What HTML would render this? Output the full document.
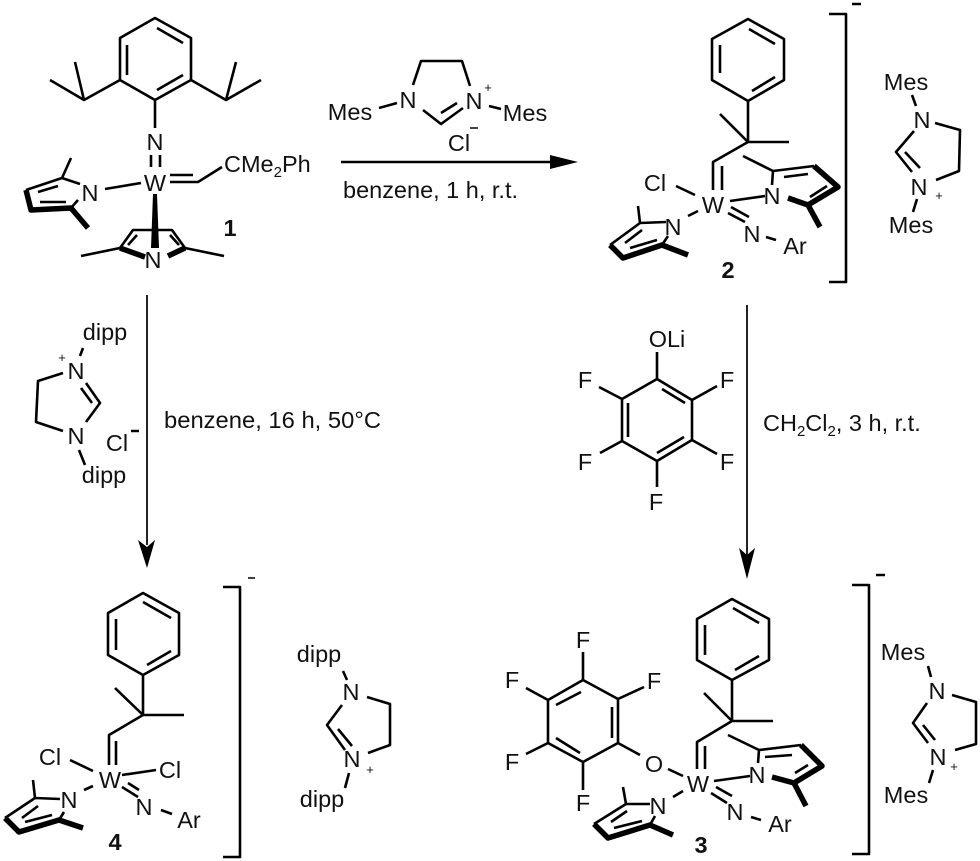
<!DOCTYPE html>
<html><head><meta charset="utf-8"><style>
html,body{margin:0;padding:0;background:#fff;width:980px;height:861px;overflow:hidden}
svg{display:block}
text{font-family:"Liberation Sans",sans-serif;font-size:23.5px;fill:#111;text-anchor:middle}
.l{text-anchor:start}
.b{font-weight:bold}
.s{font-size:15px}
.p{font-size:13px}
.t{fill:none;stroke:#000;stroke-width:2.6;stroke-linejoin:round}
.k{fill:none;stroke:#000;stroke-width:5.5;stroke-linejoin:round}
.a{fill:none;stroke:#222;stroke-width:2}
.h{fill:#000;stroke:none}
</style></head><body>
<svg width="980" height="861" viewBox="0 0 980 861" xmlns="http://www.w3.org/2000/svg">

<!-- Compound 1 -->
<path class="t" d="M155 18L191 38V80L155 100L120 80V38ZM157 28L183 43M127 45V75M157 90L183 75M120 80L84 100L50 80M84 100L75 62M191 80L226 100L261 80M226 100L236 62M155 100V128M151 155V167M160 155V167M170 175H193M170 182H198L222 167M105 189L141 183"/>
<path class="t" d="M71 158L62 178L80 184M62 178L26 190M38 192L58 186M40 202L66 202M71 208L78 200"/>
<path class="k" d="M26 190L31 210L71 208L88 228"/>
<path class="h" d="M153 194H157L159 248H151Z"/>
<path class="t" d="M120 248L133 230H172L185 248M128 245L137 235M179 245L170 235M120 248L81 256M185 248L224 256"/>
<path class="k" d="M120 248L145 257M185 248L168 256"/>
<text x="155" y="150">N</text>
<text x="155" y="191">W</text>
<text x="90" y="201">N</text>
<text x="153" y="268">N</text>
<text class="l" x="224" y="172">CMe<tspan class="s" dy="5">2</tspan><tspan dy="-5">Ph</tspan></text>
<text class="b" x="230" y="236">1</text>

<!-- Top reagent -->
<path class="t" d="M413 85L421 61H462L470 86M379 108L397 103M489 106L501 109M423 110L441 124L463 108M441 113L457 103"/>
<text x="408" y="108">N</text>
<text x="474" y="109">N</text>
<text class="p" x="488" y="92">+</text>
<text x="350" y="120">Mes</text>
<text x="525" y="121">Mes</text>
<text x="459" y="151">Cl</text>
<path class="t" style="stroke-width:1.5" d="M470 128H478"/>
<path class="t" d="M341 162H553"/>
<path class="h" d="M550 155L578 162L550 169Z"/>
<text class="l" x="343" y="198" textLength="175" lengthAdjust="spacingAndGlyphs">benzene, 1 h, r.t.</text>

<!-- Compound 2 -->
<path class="t" d="M748 19L784 39V80L748 101L712 80V39ZM749 29L775 44M720 45V73M752 91L775 77M748 101V142M720 114L748 142H789M748 142L713 162V190M722 166V190M676 186L695 195M730 201L765 196M728 213L745 222M731 207L749 217M766 237L776 240M688 216L698 211"/>
<path class="t" d="M743 156L773 171L772 185M773 171L814 166M784 177L808 174M810 197L827 186"/>
<path class="k" d="M814 166L838 187L808 205L788 198M808 205L820 227"/>
<path class="t" d="M638 206L640 223L666 222M640 223L610 245M625 243L642 230M630 248L657 240M662 245L668 236"/>
<path class="k" d="M610 245L623 258L662 245L688 255"/>
<text x="713" y="213">W</text>
<text x="655" y="191">Cl</text>
<text x="772" y="204">N</text>
<text x="752" y="242">N</text>
<text x="795" y="254">Ar</text>
<text x="673" y="235">N</text>
<text class="b" x="728" y="278">2</text>
<path class="t" d="M829 14H846V282H829M852 4H861"/>
<path class="t" d="M912 95L916 106M914 131L896 152L912 172M905 152L920 168M935 123L960 130L959 171L936 180M917 199L913 212"/>
<text x="906" y="90">Mes</text>
<text x="922" y="128">N</text>
<text x="919" y="195">N</text>
<text class="p" x="939" y="200">+</text>
<text x="911" y="233">Mes</text>

<!-- Left arrow -->
<path class="a" d="M147 295V545"/>
<path class="h" d="M138 540L147 547L155 540L147 568Z"/>
<text x="105" y="340">dipp</text>
<text x="76" y="379">N</text>
<text class="p" x="62" y="362">+</text>
<path class="t" d="M83 348L80 356M63 373L38 381L36 422L63 431M86 383L100 403L86 422M81 388L92 403M79 450L85 465M131 431H139"/>
<text x="76" y="444">N</text>
<text x="104" y="483">dipp</text>
<text x="117" y="451">Cl</text>
<text class="l" x="164" y="428" textLength="217" lengthAdjust="spacingAndGlyphs">benzene, 16 h, 50°C</text>

<!-- Right arrow -->
<path class="a" d="M747 305V555"/>
<path class="h" d="M739 548L747 555L755 548L747 579Z"/>
<text x="667" y="347">OLi</text>
<path class="t" d="M657 352V379L692 400V440L657 461L622 441V399L657 379M662 389L685 403M628 403V437M657 453L684 437M599 387L622 399M717 386L692 400M600 453L622 441M717 454L692 440M657 461V487"/>
<text x="585" y="388">F</text>
<text x="727" y="388">F</text>
<text x="585" y="470">F</text>
<text x="727" y="470">F</text>
<text x="656" y="510">F</text>
<text class="l" x="763" y="431">CH<tspan class="s" dy="5">2</tspan><tspan dy="-5">Cl</tspan><tspan class="s" dy="5">2</tspan><tspan dy="-5">, 3 h, r.t.</tspan></text>

<!-- Compound 4 -->
<path class="t" d="M143 593L179 613V655L143 675L108 655V613ZM143 602L171 618M116 619V650M147 665L171 651M143 675V715M115 688L143 715H184M143 715L109 735V765M116 741V765M70 760L93 771M122 775L156 770M84 790L93 786M122 787L138 797M128 783L139 790M161 810L172 814"/>
<path class="t" d="M33 780L35 798L60 799M35 798L5 818M22 818L38 806M25 822L52 815M59 820L64 812"/>
<path class="k" d="M5 818L19 832L59 820L83 828"/>
<text x="110" y="788">W</text>
<text x="50" y="765">Cl</text>
<text x="170" y="778">Cl</text>
<text x="69" y="808">N</text>
<text x="144" y="815">N</text>
<text x="189" y="828">Ar</text>
<text class="b" x="115" y="850">4</text>
<path class="t" d="M223 587H240V857H223"/>
<path class="t" style="stroke-width:1.5" d="M248 578H255"/>
<path class="t" d="M343 671L347 680M342 705L327 725L345 750M338 729L352 746M367 697L390 704V745L368 753M349 773L345 788"/>
<text x="319" y="662">dipp</text>
<text x="351" y="700">N</text>
<text x="352" y="767">N</text>
<text class="p" x="370" y="774">+</text>
<text x="322" y="807">dipp</text>

<!-- Compound 3 -->
<path class="t" d="M732 599L769 619V660L732 680L697 660V619ZM733 608L759 623M705 625V655M735 670L759 656M732 680V721M704 693L732 721H773M732 721L697 742V769M705 746V769M668 769L683 776M714 781L750 776M711 793L727 803M716 787L732 796M751 817L761 820M673 797L683 791"/>
<path class="t" d="M583 652V680L618 699V743L583 762L548 743V700L583 680M556 705L581 692M612 707V738M556 738L580 753M644 687L618 699M526 688L548 700M526 754L548 743M583 762V790M618 743L640 755"/>
<text x="583" y="648">F</text>
<text x="654" y="689">F</text>
<text x="512" y="688">F</text>
<text x="512" y="770">F</text>
<text x="583" y="811">F</text>
<text x="654" y="772">O</text>
<text x="698" y="792">W</text>
<path class="t" d="M728 735L759 750L758 763M759 750L801 745M765 757L792 755M795 773L808 765"/>
<path class="k" d="M801 745L822 766L794 783L772 777M794 783L806 806"/>
<path class="t" d="M623 787L626 804L650 804M626 804L594 824M611 822L627 811M614 828L642 821M650 825L655 816"/>
<path class="k" d="M594 824L608 838L650 825L673 835"/>
<text x="757" y="783">N</text>
<text x="735" y="820">N</text>
<text x="780" y="832">Ar</text>
<text x="658" y="814">N</text>
<text class="b" x="701" y="853">3</text>
<path class="t" d="M852 585H869V854H852M876 575H885"/>
<path class="t" d="M928 666L931 677M927 703L913 723L928 743M923 725L935 740M952 695L976 702V744L955 750M933 770L929 783"/>
<text x="903" y="660">Mes</text>
<text x="937" y="699">N</text>
<text x="938" y="765">N</text>
<text class="p" x="954" y="771">+</text>
<text x="906" y="803">Mes</text>
</svg>
</body></html>
